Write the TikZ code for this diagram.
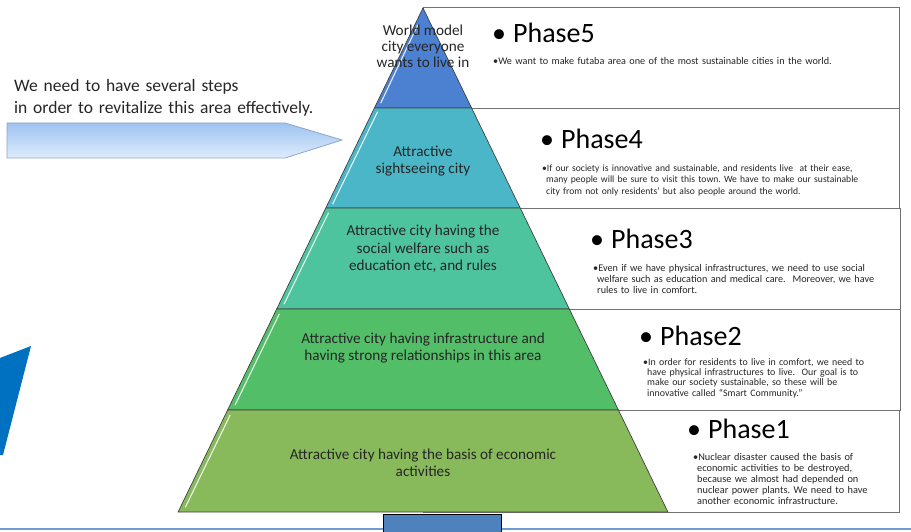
\documentclass[tikz,border=0pt]{standalone}
\usepackage{fontspec}
\setmainfont{Carlito}
\definecolor{cfive}{RGB}{76,128,208}
\definecolor{cfour}{RGB}{75,182,199}
\definecolor{cthree}{RGB}{78,196,158}
\definecolor{ctwo}{RGB}{82,190,104}
\definecolor{cone}{RGB}{136,186,92}
\definecolor{wedge}{RGB}{0,112,192}
\definecolor{footline}{RGB}{110,155,212}
\definecolor{footbox}{RGB}{79,129,189}
\definecolor{arrowtop}{RGB}{158,195,240}
\definecolor{arrowbot}{RGB}{222,236,252}
\definecolor{arrowline}{RGB}{140,165,200}
\begin{document}
\begin{tikzpicture}[x=1pt,y=-1pt,
  boxline/.style={draw=black!55, line width=0.9pt, fill=white},
  layer/.style={draw=black!75, line width=0.7pt},
  gloss/.style={draw=white, line width=1.1pt, opacity=0.85, line cap=round},
  lbl/.style={font=\fontsize{15.2}{17.5}\selectfont, align=center, inner sep=0pt, text=black!85},
  ttl/.style={font=\fontsize{28}{30}\selectfont, anchor=base west, inner sep=0pt},
  body/.style={anchor=base west, align=left, text width=360pt, inner sep=0pt, text=black!85}]
\useasboundingbox (0,0) rectangle (911,532);
\fill[white] (0,0) rectangle (911,532);

% phase boxes
\draw[boxline] (423,7) rectangle (899,108);
\draw[boxline] (423,108) rectangle (899,208);
\draw[boxline] (423,208) rectangle (900,309);
\draw[boxline] (423,309) rectangle (900,410);
\draw[boxline] (423,410) rectangle (899,512);

% pyramid layers
\filldraw[layer, fill=cfive] (423,8) -- (471.6,108) -- (374.4,108) -- cycle;
\filldraw[layer, fill=cfour] (374.4,108) -- (471.6,108) -- (520.2,208) -- (325.8,208) -- cycle;
\filldraw[layer, fill=cthree] (325.8,208) -- (520.2,208) -- (569.3,309) -- (276.7,309) -- cycle;
\filldraw[layer, fill=ctwo] (276.7,309) -- (569.3,309) -- (618.4,410) -- (227.6,410) -- cycle;
\filldraw[layer, fill=cone] (227.6,410) -- (618.4,410) -- (667.9,512) -- (178.1,512) -- cycle;

% gloss highlights
\draw[gloss] (417.7,25) -- (380.8,103);
\draw[gloss] (377.5,112) -- (332.7,204);
\draw[gloss] (328.4,213) -- (284.1,304);
\draw[gloss] (279.3,314) -- (235.1,405);
\draw[gloss] (230.2,415) -- (185.5,507);

% layer labels
\node[lbl, font=\fontsize{15.2}{16.2}\selectfont] (n5) at (423,46) {World model\\city everyone\\wants to live in};
\node[lbl] (n4) at (423,161) {Attractive\\sightseeing city};
\node[lbl] (n3) at (423,249) {Attractive city having the\\social welfare such as\\education etc, and rules};
\node[lbl] (n2) at (423,348) {Attractive city having infrastructure and\\having strong relationships in this area};
\node[lbl] (n1) at (423,463) {Attractive city having the basis of economic\\activities};

% phase titles
\node[ttl] (t5) at (492,43) {•\hspace{7pt}Phase5};
\node[ttl] (t4) at (540,149) {•\hspace{7pt}Phase4};
\node[ttl] (t3) at (590,248) {•\hspace{7pt}Phase3};
\node[ttl] (t2) at (639,345) {•\hspace{7pt}Phase2};
\node[ttl] (t1) at (687,438) {•\hspace{7pt}Phase1};

% phase bodies
\node[body, font=\fontsize{10.2}{11}\selectfont] (b5) at (493,65) {•We want to make futaba area one of the most sustainable cities in the world.};
\node[body, font=\fontsize{9.6}{11}\selectfont] (b4) at (542,172) {•If our society is innovative and sustainable, and residents live\ \ at their ease,\\
\hspace*{4pt}many people will be sure to visit this town.\ We have to make our sustainable\\
\hspace*{4pt}city from not only residents’ but also people around the world.};
\node[body, font=\fontsize{10.2}{11}\selectfont] (b3) at (593,271) {•Even if we have physical infrastructures, we need to use social\\
\hspace*{4pt}welfare such as education and medical care.\ \ Moreover, we have\\
\hspace*{4pt}rules to live in comfort.};
\node[body, font=\fontsize{9.9}{10.4}\selectfont] (b2) at (643,365) {•In order for residents to live in comfort, we need to\\
\hspace*{4pt}have physical infrastructures to live.\ \ Our goal is to\\
\hspace*{4pt}make our society sustainable, so these will be\\
\hspace*{4pt}innovative called “Smart Community.”};
\node[body, font=\fontsize{10.3}{11.2}\selectfont] (b1) at (693,460) {•Nuclear disaster caused the basis of\\
\hspace*{4pt}economic activities to be destroyed,\\
\hspace*{4pt}because we almost had depended on\\
\hspace*{4pt}nuclear power plants.\ We need to have\\
\hspace*{4pt}another economic infrastructure.};

% left note and arrow
\node[font=\fontsize{17.5}{22}\selectfont, anchor=base west, align=left, text width=340pt, inner sep=0pt, text=black!85] (note) at (14,92) {We need to have several steps\\in order to revitalize this area effectively.};
\draw[draw=arrowline, line width=0.8pt, top color=arrowtop, bottom color=arrowbot] (7,123) -- (285,123) -- (342,140) -- (285,158) -- (7,158) -- cycle;

% blue wedge
\fill[wedge] (0,358) -- (31,346) -- (3,455) -- (0,455) -- cycle;

% bottom line and foot box
\draw[draw=footline, line width=2pt] (0,529) -- (911,529);
\draw[fill=footbox, draw=black, line width=1pt] (383,514) rectangle (501,533);
\end{tikzpicture}
\end{document}
